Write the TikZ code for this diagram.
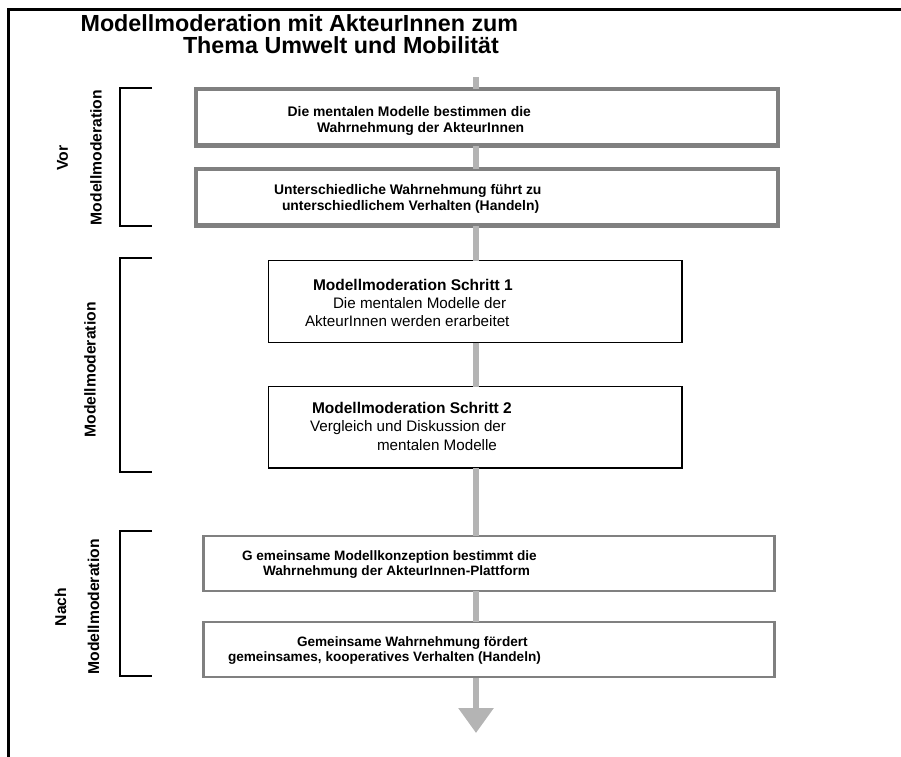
\documentclass[tikz,border=0pt]{standalone}
\usepackage{fontspec}
\setmainfont{Liberation Sans}
\usetikzlibrary{arrows.meta}

\definecolor{flowgray}{HTML}{B4B4B4}
\definecolor{framegray}{HTML}{808080}

\begin{document}
\begin{tikzpicture}[x=1pt,y=-1pt,
  every node/.style={inner sep=0pt, outer sep=0pt},
  greybox/.style={draw=framegray, line width=4.5pt, fill=white},
  greythin/.style={draw=framegray, line width=2.5pt, fill=white},
  blackbox/.style={draw=black, line width=1.4pt, fill=white},
  bracketline/.style={draw=black, line width=2pt},
  flow/.style={draw=flowgray, line width=6pt},
  titletext/.style={anchor=base west, font=\bfseries\fontsize{23.3}{21.3}\selectfont},
  boldline/.style={anchor=base west, font=\bfseries\fontsize{13.9}{16}\selectfont},
  lowline/.style={anchor=base west, font=\bfseries\fontsize{13.6}{15}\selectfont},
  stephead/.style={anchor=base west, font=\bfseries\fontsize{15.5}{17.7}\selectfont},
  stepline/.style={anchor=base west, font=\fontsize{15.2}{17.7}\selectfont},
  sidelabel/.style={rotate=90, anchor=center, font=\bfseries\fontsize{15.7}{18}\selectfont},
]
\useasboundingbox (0,0) rectangle (901,756);

% outer frame (runs past the page on the right and bottom)
\draw[line width=3pt] (8.7,770) -- (8.7,9.5) -- (915,9.5);

% title
\node[titletext] (t1) at (80.6,31.7) {Modellmoderation mit AkteurInnen zum};
\node[titletext] (t2) at (183,53) {Thema Umwelt und Mobilität};

% vertical flow line reference and its free ends
\coordinate (spine) at (476,0);
\coordinate (start) at (476,77);
\coordinate (tip) at (476,733);

% boxes
\node[greybox, minimum width=582pt, minimum height=56.5pt] (b1) at (487,117.25) {};
\node[greybox, minimum width=582pt, minimum height=56.5pt] (b2) at (487,197.25) {};
\node[blackbox, minimum width=413.5pt, minimum height=82pt] (b3) at (475.25,301.5) {};
\node[blackbox, minimum width=413.5pt, minimum height=81.5pt] (b4) at (475.25,427.25) {};
\node[greythin, minimum width=571pt, minimum height=55pt] (b5) at (489,563.5) {};
\node[greythin, minimum width=571pt, minimum height=55pt] (b6) at (489,649.5) {};

% flow segments between the boxes
\begin{scope}[on background layer/.try]
\end{scope}
\draw[flow] (start) -- (b1.north -| spine);
\draw[flow] (b1.south -| spine) -- (b2.north -| spine);
\draw[flow] (b2.south -| spine) -- (b3.north -| spine);
\draw[flow] (b3.south -| spine) -- (b4.north -| spine);
\draw[flow] (b4.south -| spine) -- (b5.north -| spine);
\draw[flow] (b5.south -| spine) -- (b6.north -| spine);
\draw[flow, -{Triangle[width=34pt,length=25pt]}] ([yshift=-1.3pt]b6.south -| spine) -- (tip);

% box texts
\node[boldline] (b1a) at (287.6,116) {Die mentalen Modelle bestimmen die};
\node[boldline] (b1b) at (317,132) {Wahrnehmung der AkteurInnen};
\node[boldline] (b2a) at (274,194) {Unterschiedliche Wahrnehmung führt zu};
\node[boldline] (b2b) at (282,210) {unterschiedlichem Verhalten (Handeln)};

\node[stephead] (b3a) at (313,290.5) {Modellmoderation Schritt 1};
\node[stepline] (b3b) at (333,308.5) {Die mentalen Modelle der};
\node[stepline] (b3c) at (305,326) {AkteurInnen werden erarbeitet};

\node[stephead] (b4a) at (312,413.5) {Modellmoderation Schritt 2};
\node[stepline] (b4b) at (310,431) {Vergleich und Diskussion der};
\node[stepline] (b4c) at (377,450) {mentalen Modelle};

\node[lowline] (b5a) at (242,560) {G emeinsame Modellkonzeption bestimmt die};
\node[lowline] (b5b) at (263,575) {Wahrnehmung der AkteurInnen-Plattform};
\node[lowline] (b6a) at (297,646) {Gemeinsame Wahrnehmung fördert};
\node[lowline] (b6b) at (228,661.5) {gemeinsames, kooperatives Verhalten (Handeln)};

% phase brackets
\draw[bracketline] (152,88) -- (120,88) -- (120,226) -- (152,226);
\draw[bracketline] (152,258) -- (120,258) -- (120,472) -- (152,472);
\draw[bracketline] (152,531) -- (120,531) -- (120,676) -- (152,676);

% phase labels
\node[sidelabel] (vor1) at (62.5,158) {Vor};
\node[sidelabel] (vor2) at (96,157.5) {Modellmoderation};
\node[sidelabel] (mid) at (90,370) {Modellmoderation};
\node[sidelabel] (nach1) at (60.5,607) {Nach};
\node[sidelabel] (nach2) at (93.5,607) {Modellmoderation};
\end{tikzpicture}
\end{document}
